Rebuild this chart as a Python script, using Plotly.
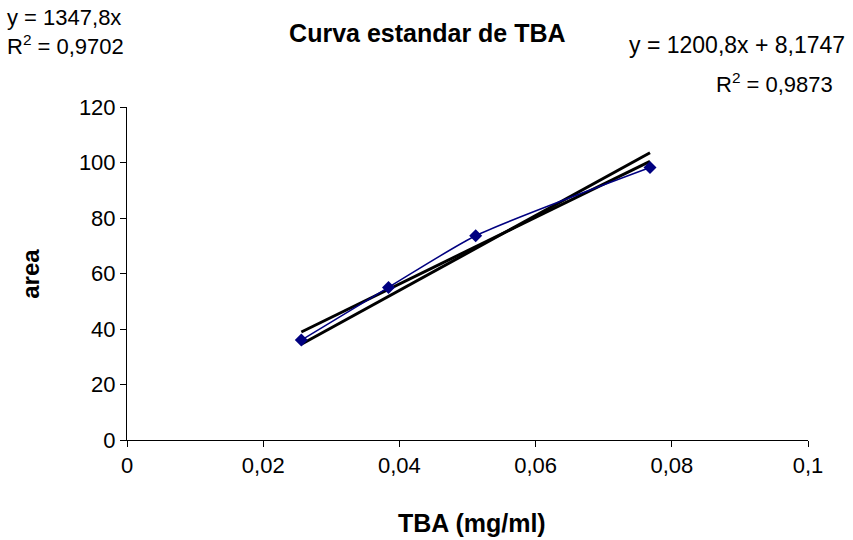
import numpy as np
import plotly.graph_objects as go

# Data
tba = [0.0256, 0.0384, 0.0512, 0.0768]
area = [36.0, 55.0, 73.6, 98.2]
# Trendline equations (as shown on chart)
lin_slope, lin_int = 1200.8, 8.1747
orig_slope = 1347.8
x_ticks = [0, 0.02, 0.04, 0.06, 0.08, 0.1]
y_ticks = [0, 20, 40, 60, 80, 100, 120]

xs = np.array([min(tba), max(tba)])
fig = go.Figure()
fig.add_trace(go.Scatter(x=xs, y=lin_slope * xs + lin_int, mode="lines",
                         line=dict(color="black", width=3), hoverinfo="skip"))
fig.add_trace(go.Scatter(x=xs, y=orig_slope * xs, mode="lines",
                         line=dict(color="black", width=3), hoverinfo="skip"))
fig.add_trace(go.Scatter(x=tba, y=area, mode="lines+markers",
                         line=dict(color="#000080", width=1.5, shape="spline", smoothing=0.6),
                         marker=dict(symbol="diamond", size=10, color="#000080")))

font = "Liberation Sans, Arial, sans-serif"
FS = 22
fig.update_layout(
    width=853, height=540, showlegend=False,
    plot_bgcolor="white", paper_bgcolor="white",
    separators=",.",
    margin=dict(l=127, r=45, t=107, b=100),
    font=dict(family=font, size=FS, color="black"),
    title=dict(text="<b>Curva estandar de TBA</b>", x=0.501, xanchor="center", xref="container",
               y=0.939, yanchor="middle", font=dict(size=25, family=font)),
    xaxis=dict(range=[0, 0.1], tickvals=x_ticks, showgrid=False, zeroline=False,
               showline=True, linecolor="black", linewidth=1,
               ticks="outside", ticklen=6, tickcolor="black", tickfont=dict(size=FS)),
    yaxis=dict(range=[0, 120], tickvals=y_ticks, showgrid=False, zeroline=False,
               showline=True, linecolor="black", linewidth=1,
               ticks="outside", ticklen=6, tickcolor="black", tickfont=dict(size=FS)),
)
fig.add_annotation(xref="paper", yref="paper", x=0.507, y=-0.249, xanchor="center", yanchor="middle",
                   text="<b>TBA (mg/ml)</b>", showarrow=False, font=dict(size=25))
fig.add_annotation(xref="paper", yref="paper", x=-0.142, y=0.50, xanchor="center", yanchor="middle",
                   text="<b>area</b>", textangle=-90, showarrow=False, font=dict(size=24))
fig.add_annotation(xref="paper", yref="paper", x=-0.179, y=1.270, xanchor="left", yanchor="middle",
                   text="y = 1347,8x", showarrow=False, font=dict(size=FS))
fig.add_annotation(xref="paper", yref="paper", x=-0.179, y=1.186, xanchor="left", yanchor="middle",
                   text="R<sup>2</sup> = 0,9702", showarrow=False, font=dict(size=FS))
fig.add_annotation(xref="paper", yref="paper", x=1.058, y=1.186, xanchor="right", yanchor="middle",
                   text="y = 1200,8x + 8,1747", showarrow=False, font=dict(size=23))
fig.add_annotation(xref="paper", yref="paper", x=1.040, y=1.072, xanchor="right", yanchor="middle",
                   text="R<sup>2</sup> = 0,9873", showarrow=False, font=dict(size=FS))

fig.write_html("out.html")
